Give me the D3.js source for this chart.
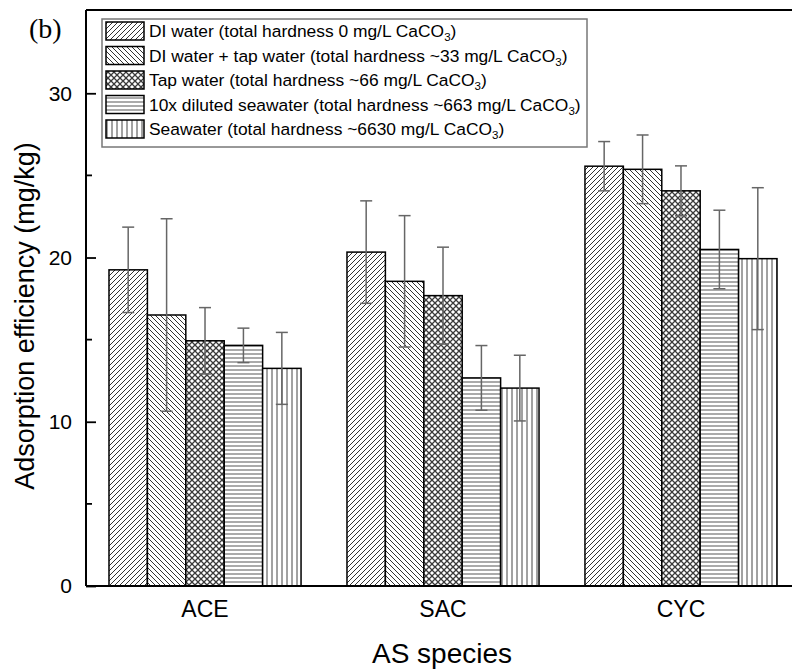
<!DOCTYPE html>
<html>
<head>
<meta charset="utf-8">
<script src="https://cdn.jsdelivr.net/npm/d3@7"></script>
<style>
  body { margin: 0; background: #fff; }
  svg { display: block; }
</style>
</head>
<body>
<div id="chart"></div>
<script>
// categories and series
const species = ["ACE", "SAC", "CYC"];
const seriesKeys = ["di", "mix", "tap", "dil", "sea"];
const legendText = [
    "DI water (total hardness 0 mg/L CaCO",
    "DI water + tap water (total hardness ~33 mg/L CaCO",
    "Tap water (total hardness ~66 mg/L CaCO",
    "10x diluted seawater (total hardness ~663 mg/L CaCO",
    "Seawater (total hardness ~6630 mg/L CaCO"
];

// values per series (ACE, SAC, CYC) and their error bars
const diWater = [19.25, 20.33, 25.56];
const diWaterErr = [2.6, 3.12, 1.5];
const diTap = [16.5, 18.55, 25.37];
const diTapErr = [5.86, 4.0, 2.09];
const tapWater = [14.93, 17.68, 24.06];
const tapWaterErr = [2.02, 2.95, 1.52];
const dilSea = [14.65, 12.67, 20.49];
const dilSeaErr = [1.05, 1.97, 2.39];
const seawater = [13.25, 12.05, 19.93];
const seawaterErr = [2.19, 2.0, 4.32];

const yTicks = [0, 10, 20, 30];
const yMinor = [5, 15, 25];

const allValues = [diWater, diTap, tapWater, dilSea, seawater];
const allErrs = [diWaterErr, diTapErr, tapWaterErr, dilSeaErr, seawaterErr];

const data = [];
species.forEach((sp, i) => {
    seriesKeys.forEach((k, j) => {
        data.push({ species: sp, key: k, value: allValues[j][i], err: allErrs[j][i] });
    });
});

const svgWidth = 792, svgHeight = 671;
const plotLeft = 86, plotRight = 800, plotTop = 10, plotBottom = 586;
const font = "'Liberation Sans', Arial, sans-serif";

const svg = d3.select("#chart").append("svg")
    .attr("width", svgWidth)
    .attr("height", svgHeight);

// hatch patterns
const defs = svg.append("defs");
function makePattern(id, w, h, draw) {
    const p = defs.append("pattern")
        .attr("id", id)
        .attr("patternUnits", "userSpaceOnUse")
        .attr("width", w)
        .attr("height", h);
    p.append("rect").attr("width", w).attr("height", h).attr("fill", "#fff");
    draw(p);
}
const hatchColor = "#333";
makePattern("p-di", 5, 5, p => {
    p.append("path").attr("d", "M-1,6 L6,-1 M-1,1 L1,-1 M4,6 L6,4")
        .attr("stroke", hatchColor).attr("stroke-width", 1);
});
makePattern("p-mix", 5, 5, p => {
    p.append("path").attr("d", "M-1,-1 L6,6 M4,-1 L6,1 M-1,4 L1,6")
        .attr("stroke", hatchColor).attr("stroke-width", 1);
});
makePattern("p-tap", 6, 6, p => {
    p.append("path").attr("d", "M-1,7 L7,-1 M-1,-1 L7,7")
        .attr("stroke", "#3a3a3a").attr("stroke-width", 1.3);
});
makePattern("p-dil", 4, 4, p => {
    p.append("line").attr("x1", 0).attr("x2", 4).attr("y1", 2).attr("y2", 2)
        .attr("stroke", "#555").attr("stroke-width", 1);
});
makePattern("p-sea", 5, 5, p => {
    p.append("line").attr("x1", 2).attr("x2", 2).attr("y1", 0).attr("y2", 5)
        .attr("stroke", "#444").attr("stroke-width", 1);
});

// scales
const x0 = d3.scaleBand()
    .domain(species)
    .range([plotLeft, plotRight])
    .paddingInner(0.193)
    .paddingOuter(0.0966);

const x1 = d3.scaleBand()
    .domain(seriesKeys)
    .range([0, x0.bandwidth()]);

const y = d3.scaleLinear()
    .domain([0, 35.07])
    .range([plotBottom, plotTop]);

// bars
svg.append("g").selectAll("rect")
    .data(data)
    .enter()
    .append("rect")
    .attr("x", d => x0(d.species) + x1(d.key))
    .attr("y", d => y(d.value))
    .attr("width", x1.bandwidth())
    .attr("height", d => plotBottom - y(d.value))
    .attr("fill", d => "url(#p-" + d.key + ")")
    .attr("stroke", "#000")
    .attr("stroke-width", 1.5);

// error bars
const eb = svg.append("g")
    .attr("stroke", "#666")
    .attr("stroke-width", 1.5)
    .attr("fill", "none");
data.forEach(d => {
    const cx = x0(d.species) + x1(d.key) + x1.bandwidth() / 2;
    const y1 = y(d.value + d.err), y2 = y(d.value - d.err);
    eb.append("line").attr("x1", cx).attr("x2", cx).attr("y1", y1).attr("y2", y2);
    eb.append("line").attr("x1", cx - 6).attr("x2", cx + 6).attr("y1", y1).attr("y2", y1);
    eb.append("line").attr("x1", cx - 6).attr("x2", cx + 6).attr("y1", y2).attr("y2", y2);
});

// frame: top line and right (clipped)
svg.append("path")
    .attr("d", `M${plotLeft},${plotTop} H${plotRight} V${plotBottom}`)
    .attr("stroke", "#000")
    .attr("stroke-width", 2)
    .attr("fill", "none");

// y axis
const yAxis = svg.append("g")
    .attr("transform", `translate(${plotLeft},0)`)
    .call(d3.axisLeft(y).tickValues(yTicks).tickSize(-10).tickPadding(14).tickFormat(d3.format("d")));
yAxis.select(".domain").remove();
yAxis.selectAll(".tick line").attr("stroke", "#000").attr("stroke-width", 1.8);
yAxis.selectAll(".tick text")
    .attr("font-family", font)
    .attr("font-size", 21)
    .attr("fill", "#000");

svg.append("g").selectAll("line")
    .data(yMinor)
    .enter()
    .append("line")
    .attr("x1", plotLeft).attr("x2", plotLeft + 6)
    .attr("y1", d => y(d)).attr("y2", d => y(d))
    .attr("stroke", "#000").attr("stroke-width", 1.8);

svg.append("line")
    .attr("x1", plotLeft).attr("x2", plotLeft)
    .attr("y1", plotTop).attr("y2", plotBottom)
    .attr("stroke", "#000").attr("stroke-width", 2);

// x axis
svg.append("line")
    .attr("x1", plotLeft).attr("x2", plotRight)
    .attr("y1", plotBottom).attr("y2", plotBottom)
    .attr("stroke", "#000").attr("stroke-width", 2);

svg.append("g").selectAll("text")
    .data(species)
    .enter()
    .append("text")
    .attr("x", d => x0(d) + x0.bandwidth() / 2)
    .attr("y", 617)
    .attr("text-anchor", "middle")
    .attr("font-family", font)
    .attr("font-size", 23)
    .text(d => d);

// axis titles
svg.append("text")
    .attr("x", 442)
    .attr("y", 663)
    .attr("text-anchor", "middle")
    .attr("font-family", font)
    .attr("font-size", 28)
    .text("AS species");

svg.append("text")
    .attr("transform", "translate(34,316) rotate(-90)")
    .attr("text-anchor", "middle")
    .attr("font-family", font)
    .attr("font-size", 27)
    .text("Adsorption efficiency (mg/kg)");

// panel label
svg.append("text")
    .attr("x", 29)
    .attr("y", 38)
    .attr("font-family", "'Liberation Serif', 'Times New Roman', serif")
    .attr("font-size", 28)
    .text("(b)");

// legend
const legend = svg.append("g");
legend.append("rect")
    .attr("x", 102).attr("y", 19)
    .attr("width", 485).attr("height", 128)
    .attr("fill", "#fff")
    .attr("stroke", "#777")
    .attr("stroke-width", 1.5);

const rowY = d3.scalePoint().domain(seriesKeys).range([31, 129]);

seriesKeys.forEach((k, i) => {
    const cy = rowY(k);
    legend.append("rect")
        .attr("x", 106).attr("y", cy - 9)
        .attr("width", 38).attr("height", 18)
        .attr("fill", "url(#p-" + k + ")")
        .attr("stroke", "#000")
        .attr("stroke-width", 1.5);
    const t = legend.append("text")
        .attr("x", 149)
        .attr("y", cy + 6)
        .attr("font-family", font)
        .attr("font-size", 17.4);
    t.append("tspan").text(legendText[i]);
    t.append("tspan").attr("font-size", 11.5).attr("dy", 4).text("3");
    t.append("tspan").attr("dy", -4).text(")");
});
</script>
</body>
</html>
